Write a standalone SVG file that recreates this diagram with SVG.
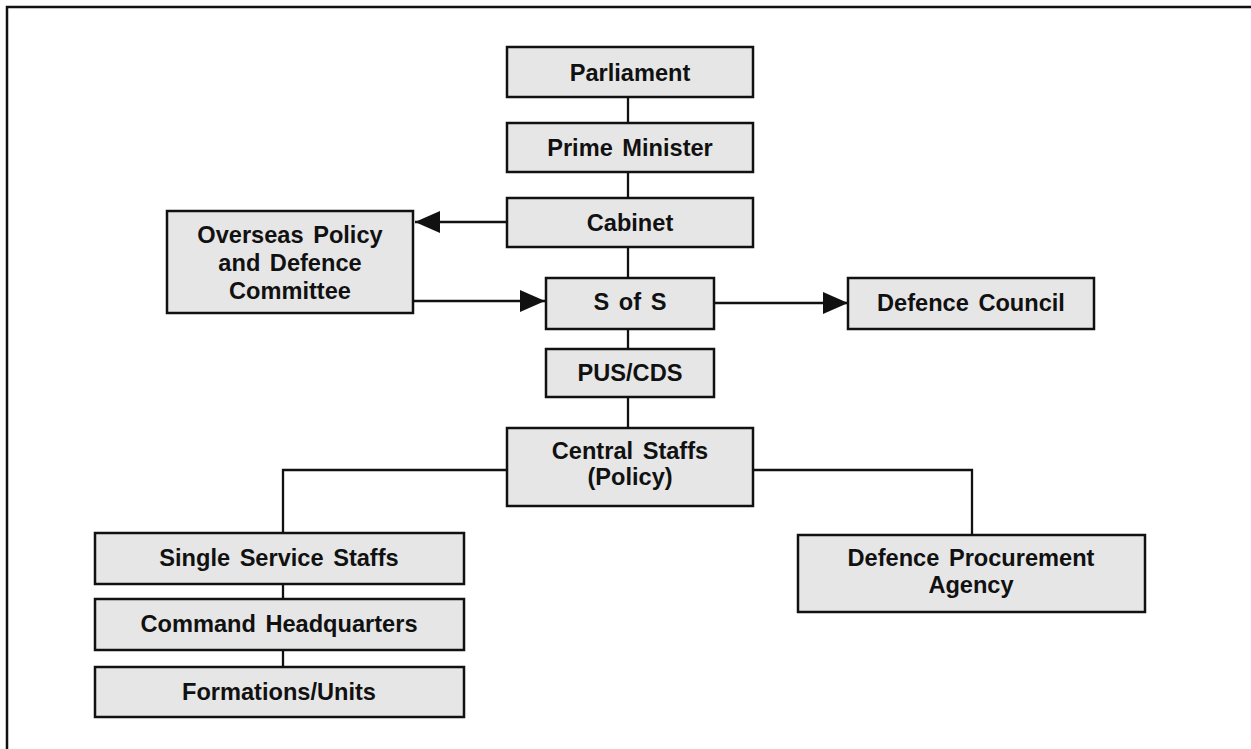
<svg xmlns="http://www.w3.org/2000/svg" width="1251" height="749" viewBox="0 0 1251 749">
<style>
.box{fill:#e6e6e6;stroke:#111;stroke-width:2.5}
.lbl{font-family:"Liberation Sans",Arial,sans-serif;font-weight:bold;font-size:23.6px;fill:#111;text-anchor:middle;word-spacing:3px}
.ln{fill:none;stroke:#111;stroke-width:2.3}
</style>
<defs>
<marker id="ah" markerWidth="25" markerHeight="22" refX="25" refY="11" orient="auto" markerUnits="userSpaceOnUse">
<path d="M0,0 L25,11 L0,22 Z" fill="#111"/>
</marker>
</defs>
<rect x="0" y="0" width="1251" height="749" fill="#fff"/>
<path d="M7,749 V7 H1251" fill="none" stroke="#111" stroke-width="2.5"/>
<g id="connectors">
<line class="ln" x1="628" y1="97" x2="628" y2="123"/>
<line class="ln" x1="628" y1="172" x2="628" y2="198"/>
<line class="ln" x1="628" y1="247" x2="628" y2="278"/>
<line class="ln" x1="628" y1="329" x2="628" y2="349"/>
<line class="ln" x1="628" y1="397" x2="628" y2="428"/>
<line class="ln" x1="507" y1="222" x2="415" y2="222" marker-end="url(#ah)"/>
<line class="ln" x1="413" y1="301" x2="545" y2="301" marker-end="url(#ah)"/>
<line class="ln" x1="714" y1="303" x2="848" y2="303" marker-end="url(#ah)"/>
<path class="ln" d="M507,470 H283 V533"/>
<path class="ln" d="M753,470 H972 V535"/>
<line class="ln" x1="283" y1="584" x2="283" y2="599"/>
<line class="ln" x1="283" y1="650" x2="283" y2="667"/>
</g>
<g id="parliament"><rect class="box" x="507" y="47" width="246" height="50"/><text class="lbl" x="630" y="81">Parliament</text></g>
<g id="prime-minister"><rect class="box" x="507" y="123" width="246" height="49"/><text class="lbl" x="630" y="156">Prime Minister</text></g>
<g id="cabinet"><rect class="box" x="507" y="198" width="246" height="49"/><text class="lbl" x="630" y="231">Cabinet</text></g>
<g id="opdc"><rect class="box" x="167" y="211" width="246" height="102"/>
<text class="lbl" x="290" y="243">Overseas Policy</text>
<text class="lbl" x="290" y="271">and Defence</text>
<text class="lbl" x="290" y="299">Committee</text></g>
<g id="s-of-s"><rect class="box" x="546" y="278" width="168" height="51"/><text class="lbl" x="630" y="310">S of S</text></g>
<g id="defence-council"><rect class="box" x="848" y="278" width="246" height="51"/><text class="lbl" x="971" y="311">Defence Council</text></g>
<g id="pus-cds"><rect class="box" x="546" y="349" width="168" height="48"/><text class="lbl" x="630" y="381">PUS/CDS</text></g>
<g id="central-staffs"><rect class="box" x="507" y="428" width="246" height="78"/>
<text class="lbl" x="630" y="459">Central Staffs</text>
<text class="lbl" x="630" y="485">(Policy)</text></g>
<g id="single-service-staffs"><rect class="box" x="95" y="533" width="369" height="51"/><text class="lbl" x="279" y="566">Single Service Staffs</text></g>
<g id="command-hq"><rect class="box" x="95" y="599" width="369" height="51"/><text class="lbl" x="279" y="632">Command Headquarters</text></g>
<g id="formations-units"><rect class="box" x="95" y="667" width="369" height="50"/><text class="lbl" x="279" y="700">Formations/Units</text></g>
<g id="dpa"><rect class="box" x="798" y="535" width="347" height="77"/>
<text class="lbl" x="971" y="566">Defence Procurement</text>
<text class="lbl" x="971" y="593">Agency</text></g>
</svg>
